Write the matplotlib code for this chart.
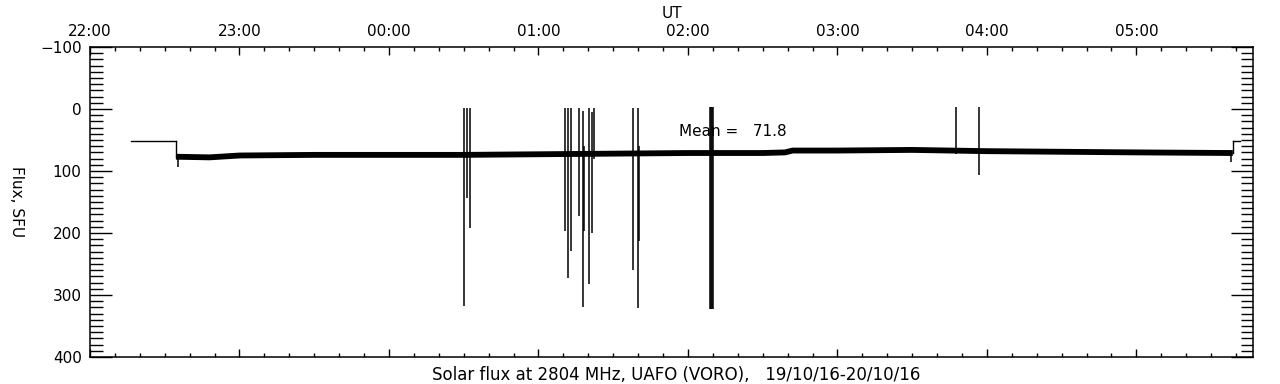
import numpy as np
import matplotlib
matplotlib.use("Agg")
import matplotlib.pyplot as plt
from matplotlib.ticker import MultipleLocator

# time axis: hours after 22:00 UT on 19/10/16
hour_labels = ['22:00', '23:00', '00:00', '01:00', '02:00', '03:00', '04:00', '05:00']
t_end = 7.78

# pre-calibration level and trailing step
pre_t = [0.275, 0.575]
pre_flux = [51, 51]
post_t = [7.645, 7.69]
post_flux = [51, 51]

# quiet-sun baseline (SFU)
base_t = [0.575, 0.8, 1.0, 1.5, 2.0, 2.5, 3.0, 3.5, 4.0, 4.5, 4.65, 4.7,
          5.0, 5.5, 6.0, 6.5, 7.0, 7.645]
base_flux = [77, 78, 75, 74, 74, 74, 73, 72, 71, 71, 70, 67,
             67, 66, 68, 69, 70, 71]

# interference spikes: time, top, bottom
spike_t = [0.59, 2.50, 2.52, 2.54, 3.18, 3.20, 3.22, 3.27, 3.30, 3.305, 3.34,
           3.36, 3.37, 3.63, 3.665, 3.675, 4.150, 4.156, 4.162, 4.168,
           5.79, 5.95, 7.63]
spike_top = [75, -2, -2, -2, -2, -2, -2, -2, 3, 60, -2,
             5, -2, -2, -2, 60, -3, -3, -3, -3,
             -3, -3, 70]
spike_bot = [93, 317, 144, 192, 197, 272, 229, 173, 320, 196, 283,
             200, 80, 260, 321, 213, 323, 323, 323, 323,
             72, 107, 85]

mean_flux = 71.8
title = 'Solar flux at 2804 MHz, UAFO (VORO),   19/10/16-20/10/16'

plt.rcParams['font.family'] = 'DejaVu Sans'
fig = plt.figure(figsize=(12.8, 3.84), dpi=100)
ax = fig.add_axes([90 / 1280, 1 - 357 / 384, (1253 - 90) / 1280, (357 - 47) / 384])

ax.plot(pre_t, pre_flux, color='black', lw=1.0)
ax.plot([pre_t[-1], pre_t[-1]], [pre_flux[-1], base_flux[0]], color='black', lw=1.0)
ax.plot(base_t, base_flux, color='black', lw=4.2, solid_capstyle='butt')
ax.plot([post_t[0], post_t[0]], [base_flux[-1], post_flux[0]], color='black', lw=1.0)
ax.plot(post_t, post_flux, color='black', lw=1.0)
ax.vlines(spike_t, spike_top, spike_bot, color='black', lw=1.1)

ax.text(3.94, 37, 'Mean =   %.1f' % mean_flux, fontsize=11, va='center', ha='left')

ax.set_xlim(0, t_end)
ax.set_ylim(400, -100)

ax.xaxis.set_ticks_position('both')
ax.xaxis.set_label_position('top')
ax.tick_params(axis='x', which='both', direction='in', top=True, bottom=True,
               labeltop=True, labelbottom=False, labelsize=11, pad=6)
ax.tick_params(axis='x', which='major', length=6, width=1)
ax.tick_params(axis='x', which='minor', length=3, width=1)
ax.set_xticks(range(len(hour_labels)))
ax.set_xticklabels(hour_labels)
ax.xaxis.set_minor_locator(MultipleLocator(1 / 6))

ax.tick_params(axis='y', which='both', direction='in', left=True, right=True,
               labelleft=True, labelright=False, labelsize=11, pad=6)
ax.tick_params(axis='y', which='major', length=16, width=1)
ax.tick_params(axis='y', which='minor', length=9, width=1)
ax.set_yticks([-100, 0, 100, 200, 300, 400])
ax.yaxis.set_minor_locator(MultipleLocator(10))

for s in ax.spines.values():
    s.set_linewidth(1.1)

ax.set_xlabel('UT', fontsize=11, labelpad=4)
ax.set_ylabel('Flux, SFU', fontsize=11, rotation=270, labelpad=22, va='bottom')
fig.text(0.528, 1 - 375 / 384, title, fontsize=12, ha='center', va='center')

fig.savefig('out.png', dpi=100)
